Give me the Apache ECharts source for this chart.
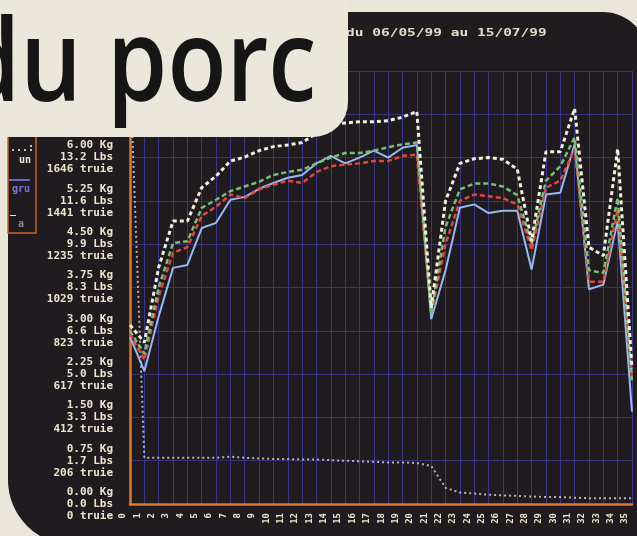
<!DOCTYPE html>
<html><head><meta charset="utf-8">
<script src="https://cdn.jsdelivr.net/npm/echarts@6/dist/echarts.min.js"></script>
<style>html,body{margin:0;padding:0;background:#e9e5d8;}#c{width:637px;height:536px;}</style>
</head><body><div id="c"></div>
<script>
// ---- data ----
const categories = ['0','1','2','3','4','5','6','7','8','9','10','11','12','13','14','15','16','17','18','19','20','21','22','23','24','25','26','27','28','29','30','31','32','33','34','35'];
const whiteSeries = [3.1,2.8,4.1,4.9,4.9,5.48,5.68,5.94,6.01,6.12,6.19,6.22,6.26,6.42,6.58,6.6,6.62,6.62,6.64,6.7,6.8,3.4,5.25,5.9,5.98,6.0,5.97,5.8,4.55,6.1,6.1,6.85,4.45,4.3,6.15,2.35];
const greenSeries = [3.0,2.6,3.75,4.52,4.55,5.13,5.27,5.42,5.5,5.58,5.7,5.75,5.79,5.9,6.0,6.08,6.08,6.12,6.18,6.23,6.26,3.3,4.8,5.45,5.55,5.55,5.5,5.35,4.5,5.6,5.85,6.35,4.05,4.0,5.3,2.1];
const redSeries   = [2.95,2.5,3.6,4.35,4.45,4.99,5.15,5.36,5.3,5.45,5.53,5.6,5.56,5.75,5.85,5.88,5.9,5.94,5.94,6.03,6.05,3.3,4.5,5.25,5.36,5.33,5.3,5.19,4.4,5.48,5.6,6.15,3.85,3.85,5.1,2.2];
const blueSeries  = [2.9,2.3,3.25,4.09,4.14,4.78,4.87,5.27,5.32,5.46,5.56,5.65,5.7,5.9,6.03,5.9,6.0,6.12,6.0,6.17,6.22,3.2,4.05,5.13,5.19,5.04,5.08,5.08,4.06,5.36,5.39,6.23,3.72,3.8,4.9,1.6];
const greySeries  = [7.5,0.8,0.8,0.8,0.8,0.8,0.8,0.82,0.8,0.79,0.78,0.78,0.77,0.77,0.76,0.75,0.74,0.73,0.72,0.72,0.71,0.66,0.28,0.2,0.18,0.16,0.15,0.14,0.13,0.12,0.12,0.11,0.1,0.1,0.1,0.1];
const kgLabels    = ['0.00 Kg','0.75 Kg','1.50 Kg','2.25 Kg','3.00 Kg','3.75 Kg','4.50 Kg','5.25 Kg','6.00 Kg'];
const lbsLabels   = ['0.0 Lbs','1.7 Lbs','3.3 Lbs','5.0 Lbs','6.6 Lbs','8.3 Lbs','9.9 Lbs','11.6 Lbs','13.2 Lbs'];
const truieLabels = ['0 truie','206 truie','412 truie','617 truie','823 truie','1029 truie','1235 truie','1441 truie','1646 truie'];
const headline = 'du porc';
const period = 'du 06/05/99 au 15/07/99';

// ---- chart ----
const mono = '"DejaVu Sans Mono", monospace';
const screen = '#1f1b1f';
const gridCol = '#38378a';
const orange = '#e2772e';
const cream = '#ece4cc';
const chart = echarts.init(document.getElementById('c'));
chart.setOption({
  backgroundColor: '#e9e5d8',
  animation: false,
  grid: {left: 130, right: 5, top: 71, bottom: 32},
  xAxis: {
    type: 'category', data: categories, boundaryGap: false,
    axisLine: {lineStyle: {color: orange, width: 2.5}},
    axisTick: {show: false},
    axisLabel: {rotate: 90, interval: 0, color: cream, fontFamily: mono, fontWeight: 'bold', fontSize: 9, margin: 9, verticalAlign: 'bottom', lineHeight: 14},
    splitLine: {show: true, lineStyle: {color: gridCol, width: 1}}
  },
  yAxis: {
    type: 'value', min: 0, max: 7.5, interval: 0.75,
    axisLine: {show: true, lineStyle: {color: orange, width: 2.5}},
    axisTick: {show: false},
    axisLabel: {color: cream, fontFamily: mono, fontWeight: 'bold', fontSize: 11, lineHeight: 12, margin: 17,
      formatter: (v, i) => i < kgLabels.length ? kgLabels[i] + '\n' + lbsLabels[i] + '\n' + truieLabels[i] : ''},
    splitLine: {lineStyle: {color: '#34337a', width: 1}}
  },
  series: [
    {name: 'gris', type: 'line', data: greySeries, symbol: 'none', lineStyle: {color: '#b9b1b4', width: 2, type: [2, 3]}},
    {name: 'bleu', type: 'line', data: blueSeries, symbol: 'none', lineStyle: {color: '#98b8f2', width: 2}},
    {name: 'rouge', type: 'line', data: redSeries, symbol: 'none', lineStyle: {color: '#e2473c', width: 2.5, type: [5, 3]}},
    {name: 'vert', type: 'line', data: greenSeries, symbol: 'none', lineStyle: {color: '#78c070', width: 2.5, type: [5, 3]}},
    {name: 'blanc', type: 'line', data: whiteSeries, symbol: 'none', lineStyle: {color: '#f2efdc', width: 3, type: [4, 3]}}
  ],
  graphic: [
    {type: 'rect', z: -10, silent: true, shape: {x: 8, y: 12, width: 640, height: 533, r: [0, 45, 0, 65]}, style: {fill: screen}},
    {type: 'text', z: 50, silent: true, x: 346, y: 33, scaleX: 1.45, style: {text: period, font: 'bold 10px "DejaVu Sans Mono"', fill: '#e4dcc6', verticalAlign: 'middle'}},
    {type: 'rect', z: 5, silent: true, shape: {x: 8, y: 136, width: 28, height: 97}, style: {fill: screen, stroke: '#c8642c', lineWidth: 1.5}},
    {type: 'text', z: 6, silent: true, x: 10, y: 148, style: {text: '...:', font: 'bold 10px "DejaVu Sans Mono"', fill: cream, verticalAlign: 'middle'}},
    {type: 'text', z: 6, silent: true, x: 19, y: 160, style: {text: 'un', font: 'bold 10px "DejaVu Sans Mono"', fill: cream, verticalAlign: 'middle'}},
    {type: 'line', z: 6, silent: true, shape: {x1: 9, y1: 180, x2: 30, y2: 180}, style: {stroke: '#6a66d0', lineWidth: 2}},
    {type: 'text', z: 6, silent: true, x: 12, y: 189, style: {text: 'gru', font: 'bold 10px "DejaVu Sans Mono"', fill: '#7a74e0', verticalAlign: 'middle'}},
    {type: 'text', z: 6, silent: true, x: 10, y: 210, style: {text: '_', font: 'bold 10px "DejaVu Sans Mono"', fill: cream, verticalAlign: 'middle'}},
    {type: 'text', z: 6, silent: true, x: 18, y: 224, style: {text: 'a', font: 'bold 10px "DejaVu Sans Mono"', fill: '#8a8288', verticalAlign: 'middle'}},
    {type: 'rect', z: 100, silent: true, shape: {x: -20, y: -20, width: 368, height: 157, r: [0, 0, 35, 0]}, style: {fill: '#ebe7da'}},
    {type: 'text', z: 101, silent: true, x: -40, y: 69, scaleX: 0.85, style: {text: headline, font: '600 114px "Open Sans"', fill: '#151515', verticalAlign: 'middle'}}
  ]
});
</script>
</body></html>
